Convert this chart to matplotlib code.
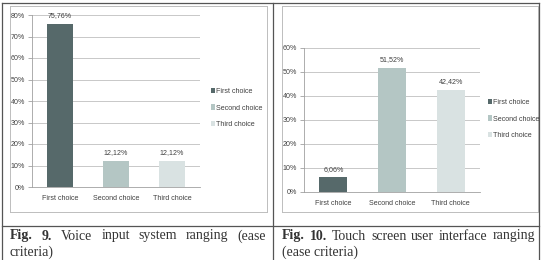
import matplotlib
matplotlib.use("Agg")
import matplotlib.pyplot as plt
from matplotlib.patches import Patch
from matplotlib.lines import Line2D

categories = ["First choice", "Second choice", "Third choice"]
voice_values = [75.76, 12.12, 12.12]
touch_values = [6.06, 51.52, 42.42]
voice_labels = ["75,76%", "12,12%", "12,12%"]
touch_labels = ["6,06%", "51,52%", "42,42%"]
voice_ticks = [0, 10, 20, 30, 40, 50, 60, 70, 80]
touch_ticks = [0, 10, 20, 30, 40, 50, 60]
caption_left = ["Fig. 9.", "Voice input system ranging (ease", "criteria)"]
caption_right = ["Fig. 10.", "Touch screen user interface ranging", "(ease criteria)"]

colors = ["#56696a", "#b4c6c4", "#d9e2e2"]
W, H = 545, 260
FONT = ["Liberation Sans Narrow", "Liberation Sans", "DejaVu Sans"]
FS = 5.1

fig = plt.figure(figsize=(W / 100, H / 100), dpi=100)
fig.patch.set_facecolor("white")


def px_rect(x0, y0, x1, y1):
    return [x0 / W, 1 - y1 / H, (x1 - x0) / W, (y1 - y0) / H]


def fline(x0, y0, x1, y1, color, lw):
    fig.add_artist(Line2D([x0 / W, x1 / W], [1 - y0 / H, 1 - y1 / H],
                          color=color, lw=lw, transform=fig.transFigure))


def bar_panel(rect, values, labels, ticks, legend_xy):
    ax = fig.add_axes(rect)
    x = range(len(categories))
    ax.bar(x, values, width=0.48, color=colors, zorder=3)
    ax.set_xlim(-0.5, len(categories) - 0.5)
    ax.set_ylim(0, ticks[-1])
    ax.set_yticks(ticks)
    ax.set_yticklabels([f"{t}%" for t in ticks], fontsize=FS, family=FONT, color="#404040")
    ax.set_xticks(list(x))
    ax.set_xticklabels(categories, fontsize=FS, family=FONT, color="#404040")
    ax.tick_params(axis="y", length=3, width=0.6, color="#a0a0a0", pad=2)
    ax.tick_params(axis="x", length=0, pad=6)
    ax.grid(axis="y", color="#bfbfbf", lw=0.6, zorder=0)
    for s in ["top", "right"]:
        ax.spines[s].set_visible(False)
    for s in ["left", "bottom"]:
        ax.spines[s].set_color("#a0a0a0")
        ax.spines[s].set_linewidth(0.6)
    for i, (v, lab) in enumerate(zip(values, labels)):
        ax.annotate(lab, (i, v), xytext=(0, 3.5), textcoords="offset points",
                    ha="center", va="bottom", fontsize=FS, family=FONT, color="#404040")
    handles = [Patch(facecolor=c, edgecolor="none") for c in colors]
    fig.legend(handles, categories, loc="center left",
               bbox_to_anchor=(legend_xy[0] / W, 1 - legend_xy[1] / H),
               frameon=False, prop={"family": FONT, "size": FS},
               handlelength=0.55, handleheight=0.75, handletextpad=0.2,
               labelspacing=1.35, borderpad=0, borderaxespad=0, labelcolor="#404040")
    return ax


bar_panel(px_rect(32, 15, 200, 187), voice_values, voice_labels, voice_ticks, (211, 108))
bar_panel(px_rect(304, 48, 480, 192), touch_values, touch_labels, touch_ticks, (488, 119))

# chart frames
gray = "#bdbdbd"
for (x0, y0, x1, y1) in [(10, 6, 267, 212), (282, 6, 538, 212)]:
    fline(x0, y0, x1, y0, gray, 0.7)
    fline(x0, y1, x1, y1, gray, 0.7)
    fline(x0, y0, x0, y1, gray, 0.7)
    fline(x1, y0, x1, y1, gray, 0.7)

# table lines
dark = "#555555"
fline(2, 3, 539, 3, dark, 0.9)
fline(2, 3, 2, 260, dark, 0.9)
fline(273, 3, 273, 260, dark, 0.9)
fline(539, 3, 539, 260, dark, 0.9)
fline(2, 226, 539, 226, dark, 0.9)

# captions (justified first line)
fig.canvas.draw()
renderer = fig.canvas.get_renderer()
SERIF = ["Liberation Serif", "DejaVu Serif"]
CSIZE = 10
CCOL = "#333333"


def justified(words_bold, words_norm, x0, x1, y):
    items = [(w, "bold") for w in words_bold.split()] + [(w, "normal") for w in words_norm.split()]
    texts = []
    total = 0
    for w, wt in items:
        t = fig.text(0, 1 - y / H, w, fontsize=CSIZE, family=SERIF, weight=wt,
                     va="center", ha="left", color=CCOL)
        wpx = t.get_window_extent(renderer).width
        texts.append((t, wpx))
        total += wpx
    gap = (x1 - x0 - total) / (len(texts) - 1)
    xx = x0
    for t, wpx in texts:
        t.set_x(xx / W)
        xx += wpx + gap


justified(caption_left[0], caption_left[1], 10, 266, 236)
fig.text(10 / W, 1 - 252 / H, caption_left[2], fontsize=CSIZE, family=SERIF,
         va="center", ha="left", color=CCOL)
justified(caption_right[0], caption_right[1], 282, 535, 236)
fig.text(282 / W, 1 - 252 / H, caption_right[2], fontsize=CSIZE, family=SERIF,
         va="center", ha="left", color=CCOL)

fig.savefig("out.png", dpi=100)
